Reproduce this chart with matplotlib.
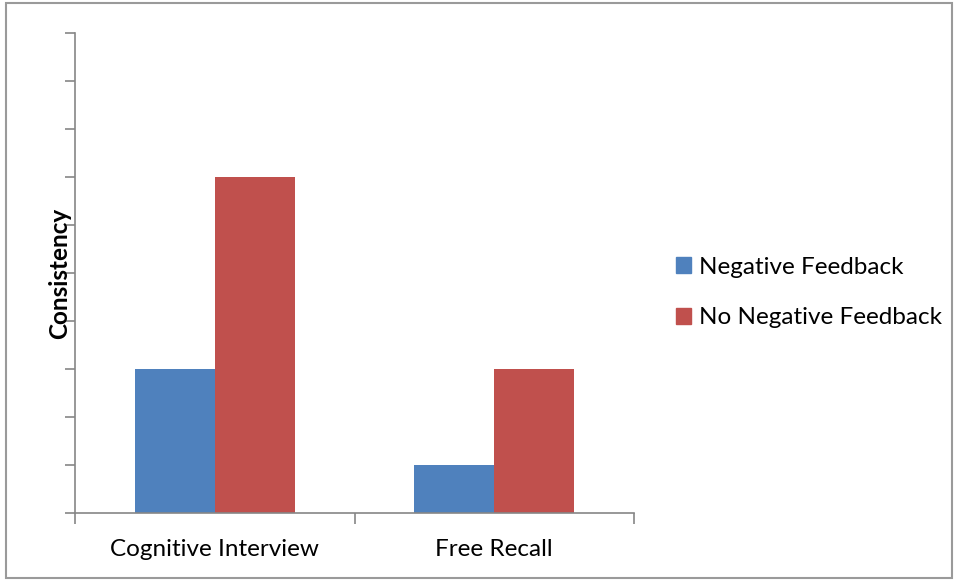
import matplotlib
matplotlib.use("Agg")
import matplotlib.pyplot as plt
from matplotlib.patches import Rectangle, Patch
import numpy as np

categories = ["Cognitive Interview", "Free Recall"]
series_names = ["Negative Feedback", "No Negative Feedback"]
negative = [3, 1]
no_negative = [7, 3]
colors = ["#4F81BD", "#C0504D"]

plt.rcParams['font.family'] = ['Lato', 'DejaVu Sans']

W, H = 958, 580
fig = plt.figure(figsize=(W/100, H/100), dpi=100)
fig.patches.append(Rectangle((6/W, 2/H), (952-6)/W, (577-2)/H, transform=fig.transFigure,
                             fill=False, edgecolor="#9a9a9a", linewidth=1.5))

ax = fig.add_axes([75/W, 1 - 513/H, (634-75)/W, (513-33)/H])
x = np.arange(len(categories))
w = 80/280
ax.bar(x - w/2, negative, width=w, color=colors[0], label=series_names[0])
ax.bar(x + w/2, no_negative, width=w, color=colors[1], label=series_names[1])

ax.set_xlim(-0.5, len(categories) - 0.5)
ax.set_ylim(0, 10)
ax.set_yticks(range(0, 11))
ax.set_yticklabels([])
ax.set_xticks(x)
ax.set_xticklabels(categories, fontsize=17.5)
ax.set_xticks(np.arange(-0.5, len(categories)), minor=True)
ax.tick_params(axis='x', which='major', length=0, pad=19)
ax.tick_params(axis='x', which='minor', length=8, color="#868686", width=1.2)
ax.tick_params(axis='y', length=7, color="#868686", width=1.2)
for s in ["top", "right"]:
    ax.spines[s].set_visible(False)
for s in ["left", "bottom"]:
    ax.spines[s].set_color("#868686")
    ax.spines[s].set_linewidth(1.2)
ax.set_ylabel("Consistency", fontsize=17.5, fontweight="bold", labelpad=-8)

handles = [Patch(color=c) for c in colors]
fig.legend(handles, series_names, loc="center left", bbox_to_anchor=(676/W, 1 - 292.5/H),
           frameon=False, fontsize=17.5, handlelength=0.6, handleheight=0.6,
           handletextpad=0.33, labelspacing=1.23, borderpad=0, borderaxespad=0)

fig.savefig("out.png", dpi=100)
